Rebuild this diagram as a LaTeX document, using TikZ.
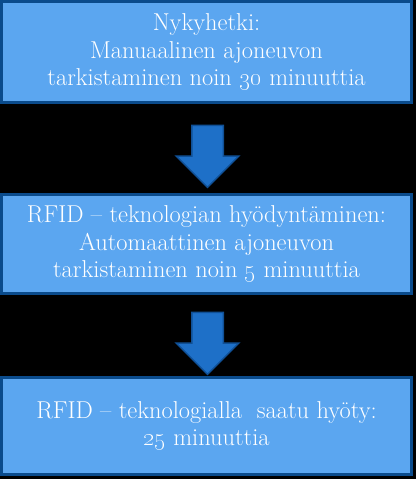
\documentclass[tikz,border=0pt]{standalone}
\usepackage{tikz}
\usetikzlibrary{shapes.arrows, calc}

\definecolor{laatikko}{RGB}{91,166,240}
\definecolor{reuna}{RGB}{10,75,140}
\definecolor{nuoli}{RGB}{30,112,200}
\definecolor{nuolireuna}{RGB}{16,80,150}

\begin{document}
\begin{tikzpicture}[x=1bp, y=1bp, inner sep=0pt,
	box/.style={rectangle, draw=reuna, fill=laatikko, line width=3bp, minimum width=410bp, text=white, align=center, font=\fontsize{24.5}{27.6}\selectfont},
	pil/.style={single arrow, draw=nuolireuna, fill=nuoli, line width=1.5bp, rotate=-90, inner xsep=0pt, inner ysep=15bp, minimum height=62bp, single arrow head extend=15.5bp}]
			\fill[black] (0,0) rectangle (416,479);
			\useasboundingbox (0,0) rectangle (416,479);
			
			\node[box, minimum height=101bp](N) at (206.5,427) {Nykyhetki:\\Manuaalinen ajoneuvon\\tarkistaminen noin \oldstylenums{30} minuuttia};
			\node[box, minimum height=99bp](R) at (206.5,235) {RFID -- teknologian hyödyntäminen:\\Automaattinen ajoneuvon\\tarkistaminen noin \oldstylenums{5} minuuttia};
			\node[box, minimum height=97bp](H) at (206.5,53) {RFID -- teknologialla\ \ saatu hyöty:\\\oldstylenums{25} minuuttia};
			
			\node[pil](NR) at ($(N.south)!0.5!(R.north)+(1,0)$) {};
			\node[pil](RH) at ($(R.south)!0.5!(H.north)+(1,0)$) {};
		\end{tikzpicture}
\end{document}
